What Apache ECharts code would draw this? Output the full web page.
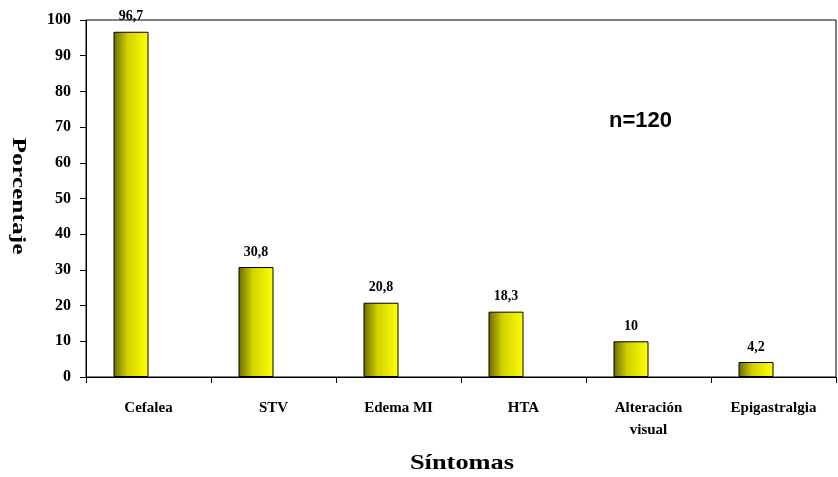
<!DOCTYPE html>
<html>
<head>
<meta charset="utf-8">
<script src="https://cdn.jsdelivr.net/npm/echarts@6/dist/echarts.min.js"></script>
<style>
  html, body { margin: 0; padding: 0; background: #ffffff; }
  #chart { width: 838px; height: 477px; }
</style>
</head>
<body>
<div id="chart"></div>
<script>
// Síntomas registrados (porcentaje, n=120)
const categories = ['Cefalea', 'STV', 'Edema MI', 'HTA', 'Alteración\nvisual', 'Epigastralgia'];
const values = [96.7, 30.8, 20.8, 18.3, 10, 4.2];
const yTicks = [0, 10, 20, 30, 40, 50, 60, 70, 80, 90, 100];

const serif = '"Liberation Serif", "Times New Roman", serif';
const sans = '"Liberation Sans", Arial, sans-serif';

const chart = echarts.init(document.getElementById('chart'), null, { renderer: 'canvas' });

const barFill = new echarts.graphic.LinearGradient(0, 0, 1, 0, [
  { offset: 0, color: '#6a6a00' },
  { offset: 0.4, color: '#d2d200' },
  { offset: 1, color: '#ffff00' }
]);

chart.setOption({
  animation: false,
  backgroundColor: '#ffffff',
  grid: {
    left: 86, right: 2, top: 20, bottom: 100,
    outerBoundsMode: 'none',
    containLabel: false,
    show: true, borderColor: '#000', borderWidth: 1
  },
  xAxis: {
    type: 'category',
    data: categories,
    axisLine: { lineStyle: { color: '#000', width: 1 } },
    axisTick: { show: true, alignWithLabel: false, length: 6, lineStyle: { color: '#000' } },
    axisLabel: { fontFamily: serif, fontWeight: 'bold', fontSize: 15, color: '#000', margin: 20, lineHeight: 22, interval: 0 },
    splitLine: { show: false }
  },
  yAxis: {
    type: 'value',
    min: yTicks[0],
    max: yTicks[yTicks.length - 1],
    interval: 10,
    axisLine: { show: true, lineStyle: { color: '#000', width: 1 } },
    axisTick: { show: true, inside: false, length: 6, lineStyle: { color: '#000' } },
    axisLabel: { fontFamily: serif, fontWeight: 'bold', fontSize: 16, color: '#000', margin: 15 },
    splitLine: { show: false }
  },
  series: [
    {
      type: 'bar',
      data: values,
      barWidth: 35,
      barGap: '0%',
      itemStyle: { color: barFill, borderColor: '#000', borderWidth: 1 },
      label: {
        show: true,
        position: 'top',
        distance: 8,
        fontFamily: serif,
        fontWeight: 'bold',
        fontSize: 14,
        color: '#000',
        formatter: p => String(p.value).replace('.', ',')
      }
    },
    {
      type: 'bar',
      data: values.map(() => null),
      barWidth: 35,
      silent: true
    }
  ],
  graphic: [
    {
      type: 'text',
      x: 609,
      y: 121,
      style: { text: 'n=120', fontFamily: sans, fontWeight: 'bold', fontSize: 22, fill: '#000', textAlign: 'left', textVerticalAlign: 'middle' }
    },
    {
      type: 'text',
      x: 462,
      y: 463,
      scaleX: 1.2,
      style: { text: 'Síntomas', fontFamily: serif, fontWeight: 'bold', fontSize: 22, fill: '#000', textAlign: 'center', textVerticalAlign: 'middle' }
    },
    {
      type: 'text',
      x: 18,
      y: 196,
      rotation: -Math.PI / 2,
      scaleX: 1.34,
      style: { text: 'Porcentaje', fontFamily: serif, fontWeight: 'bold', fontSize: 19, fill: '#000', textAlign: 'center', textVerticalAlign: 'middle' }
    }
  ]
});
</script>
</body>
</html>
